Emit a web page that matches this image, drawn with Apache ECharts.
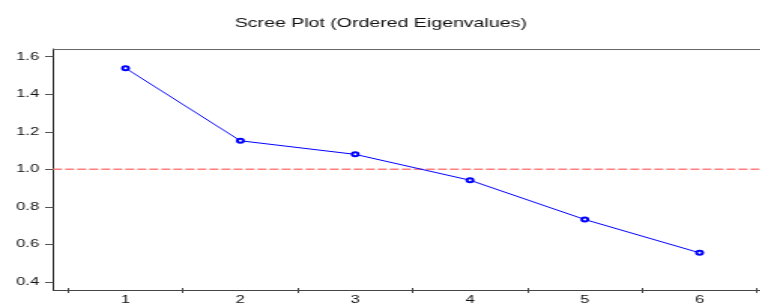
<!DOCTYPE html>
<html><head><meta charset="utf-8">
<script src="https://cdn.jsdelivr.net/npm/echarts@6/dist/echarts.min.js"></script>
<style>
html,body{margin:0;padding:0;background:#fff;overflow:hidden;}
#wrap{width:760px;height:305px;overflow:hidden;}
#c{height:305px;transform-origin:0 0;}
</style></head>
<body><div id="wrap"><div id="c"></div></div>
<script>
const titleText = 'Scree Plot (Ordered Eigenvalues)';
const categories = ['1','2','3','4','5','6'];
const eigenvalues = [1.538, 1.148, 1.075, 0.936, 0.725, 0.546];
const yTickValues = [0.4, 0.6, 0.8, 1.0, 1.2, 1.4, 1.6];
const refLineValue = 1.0;

const S = 1.5; // horizontal stretch of the reference rendering
const W = 760 / S;
const el = document.getElementById('c');
el.style.width = W + 'px';
el.style.transform = 'scaleX(' + S + ')';
const chart = echarts.init(el, null, {renderer:'canvas', width: W, height: 305});
const font = 'Liberation Sans, Arial, sans-serif';
const yMin = 0.357, yMax = 1.641;
const axisCol = '#444';

chart.setOption({
  animation:false,
  title:{text:titleText,left:'center',top:12,textStyle:{fontFamily:font,fontSize:13,fontWeight:'normal',color:'#111'}},
  grid:[
    {left:53/S,right:0,top:49,bottom:15},
    {left:68/S,right:4.5/S,top:49,bottom:15}
  ],
  xAxis:[
    {gridIndex:0,type:'value',min:0,max:1,position:'bottom',axisLine:{show:true,lineStyle:{color:axisCol,width:1}},axisTick:{show:false},axisLabel:{show:false},splitLine:{show:false}},
    {gridIndex:0,type:'value',min:0,max:1,position:'top',axisLine:{show:true,lineStyle:{color:'#666',width:1}},axisTick:{show:false},axisLabel:{show:false},splitLine:{show:false}},
    {gridIndex:1,type:'category',data:categories,boundaryGap:true,position:'bottom',
      axisLine:{show:false},
      axisTick:{show:true,inside:false,length:5,lineStyle:{color:axisCol}},
      axisLabel:{fontFamily:font,fontSize:11,color:'#111',margin:6},
      splitLine:{show:false}}
  ],
  yAxis:[
    {gridIndex:0,type:'value',min:yMin,max:yMax,
      axisLine:{show:true,lineStyle:{color:'#222',width:1}},
      axisTick:{show:true,inside:false,length:8/S,customValues:yTickValues,lineStyle:{color:'#555'}},
      axisLabel:{fontFamily:font,fontSize:11,color:'#111',margin:14/S,customValues:yTickValues,formatter:v=>v.toFixed(1)},
      splitLine:{show:false}},
    {gridIndex:1,type:'value',min:yMin,max:yMax,show:false,splitLine:{show:false}}
  ],
  series:[
    {type:'line',xAxisIndex:0,yAxisIndex:0,
      data:[[0,refLineValue],[1,refLineValue]],
      symbol:'none',silent:true,z:1,
      itemStyle:{color:'#ff8080'},
      lineStyle:{color:'#ff8080',type:[6,2],width:1.6}},
    {type:'line',xAxisIndex:2,yAxisIndex:1,data:eigenvalues,
      symbol:'emptyCircle',symbolSize:4,z:3,
      itemStyle:{color:'#0000ff',borderWidth:0.8},
      lineStyle:{color:'#0000ff',width:1}}
  ]
});
</script></body></html>
